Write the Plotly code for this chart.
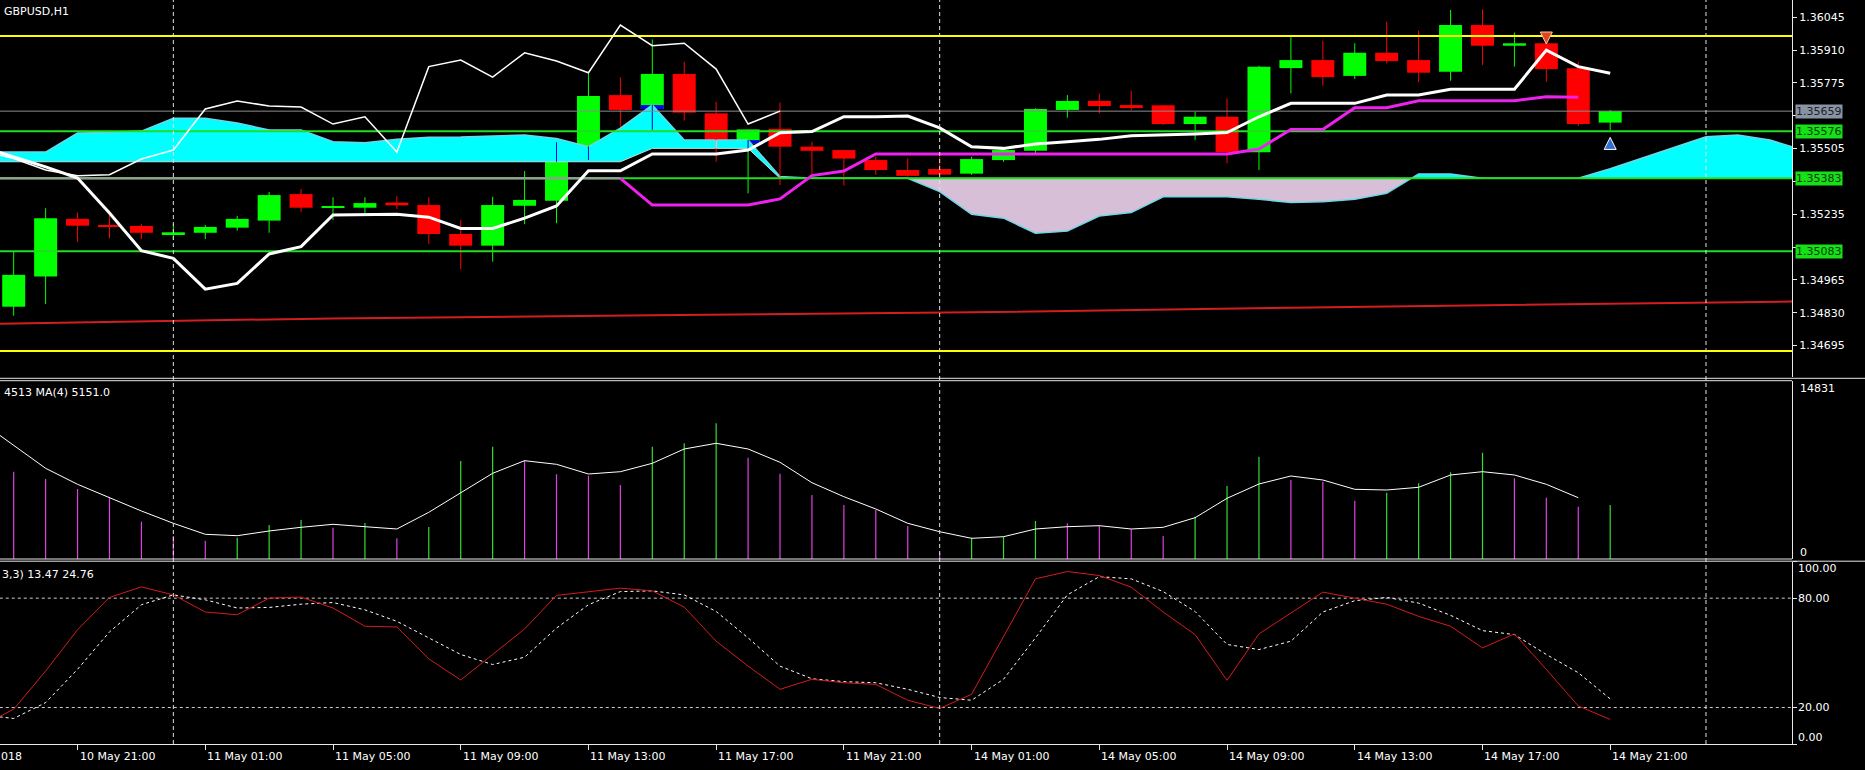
import plotly.graph_objects as go

# GBPUSD H1, bar 0 = 10 May 19:00 ... bar 50 = 14 May 21:00
bars = list(range(51))

opens = [1.34855, 1.34979, 1.35216, 1.35188, 1.35187, 1.35153, 1.35159, 1.35180, 1.35209, 1.35318,
         1.35262, 1.35262, 1.35283, 1.35273, 1.35154, 1.35106, 1.35270, 1.35291, 1.35462, 1.35725,
         1.35668, 1.35812, 1.35650, 1.35527, 1.35586, 1.35513, 1.35499, 1.35458, 1.35417, 1.35421,
         1.35402, 1.35458, 1.35496, 1.35664, 1.35701, 1.35684, 1.35683, 1.35606, 1.35636, 1.35490,
         1.35836, 1.35869, 1.35804, 1.35899, 1.35869, 1.35821, 1.36013, 1.35928, 1.35938, 1.35835,
         1.35612]
highs = [1.35081, 1.35260, 1.35242, 1.35232, 1.35194, 1.35195, 1.35191, 1.35228, 1.35327, 1.35339,
         1.35305, 1.35305, 1.35310, 1.35305, 1.35212, 1.35307, 1.35413, 1.35531, 1.35817, 1.35798,
         1.35954, 1.35862, 1.35698, 1.35584, 1.35694, 1.35533, 1.35499, 1.35472, 1.35465, 1.35472,
         1.35472, 1.35499, 1.35671, 1.35725, 1.35732, 1.35743, 1.35683, 1.35657, 1.35712, 1.35846,
         1.35963, 1.35949, 1.35938, 1.36027, 1.35990, 1.36075, 1.36078, 1.35982, 1.35959, 1.35862,
         1.35664]
lows = [1.34818, 1.34866, 1.35122, 1.35136, 1.35133, 1.35129, 1.35133, 1.35168, 1.35159, 1.35244,
        1.35212, 1.35239, 1.35256, 1.35113, 1.35009, 1.35040, 1.35194, 1.35198, 1.35458, 1.35595,
        1.35582, 1.35620, 1.35451, 1.35321, 1.35355, 1.35390, 1.35353, 1.35397, 1.35390, 1.35397,
        1.35397, 1.35451, 1.35486, 1.35632, 1.35650, 1.35664, 1.35602, 1.35541, 1.35445, 1.35417,
        1.35732, 1.35764, 1.35791, 1.35856, 1.35778, 1.35784, 1.35849, 1.35842, 1.35780, 1.35598,
        1.35579]
closes = [1.34986, 1.35219, 1.35188, 1.35184, 1.35159, 1.35161, 1.35183, 1.35216, 1.35314, 1.35262,
          1.35266, 1.35281, 1.35272, 1.35154, 1.35106, 1.35273, 1.35294, 1.35465, 1.35721, 1.35664,
          1.35812, 1.35653, 1.35517, 1.35584, 1.35513, 1.35496, 1.35464, 1.35417, 1.35393, 1.35398,
          1.35462, 1.35499, 1.35668, 1.35701, 1.35680, 1.35676, 1.35606, 1.35636, 1.35491, 1.35842,
          1.35869, 1.35799, 1.35899, 1.35865, 1.35817, 1.36013, 1.35928, 1.35938, 1.35832, 1.35606,
          1.35659]

# indicator lines start one bar left of the screen (bar -1)
line_bars = list(range(-1, 51))
tenkan = [1.35512, 1.35471, 1.35430, 1.35384, 1.35240, 1.35085, 1.35054, 1.34927, 1.34951, 1.35072,
          1.35102, 1.35232, 1.35235, 1.35235, 1.35223, 1.35177, 1.35177, 1.35219, 1.35269, 1.35414,
          1.35414, 1.35483, 1.35483, 1.35483, 1.35499, 1.35570, 1.35575, 1.35636, 1.35636, 1.35639,
          1.35590, 1.35513, 1.35506, 1.35524, 1.35533, 1.35543, 1.35558, 1.35561, 1.35565, 1.35571,
          1.35636, 1.35691, 1.35691, 1.35691, 1.35725, 1.35725, 1.35749, 1.35749, 1.35749, 1.35910,
          1.35842, 1.35815]

chikou_bars = list(range(-1, 25))
chikou = [1.35496, 1.35464, 1.35417, 1.35393, 1.35398, 1.35462, 1.35499, 1.35668, 1.35701, 1.35680,
          1.35676, 1.35606, 1.35636, 1.35491, 1.35842, 1.35869, 1.35799, 1.35899, 1.35865, 1.35817,
          1.36013, 1.35928, 1.35938, 1.35832, 1.35606, 1.35659]

kijun_bars = list(range(19, 51))
kijun = [1.35383, 1.35273, 1.35273, 1.35273, 1.35273, 1.35298, 1.35394, 1.35413, 1.35483, 1.35483,
         1.35483, 1.35483, 1.35483, 1.35483, 1.35483, 1.35483, 1.35483, 1.35483, 1.35483, 1.35483,
         1.35503, 1.35584, 1.35584, 1.35673, 1.35673, 1.35702, 1.35702, 1.35702, 1.35702, 1.35718,
         1.35716]

# cloud runs 26 bars ahead of price
cloud_bars = list(range(-1, 57))
senkou_a = [1.35491, 1.35491, 1.35491, 1.35569, 1.35571, 1.35577, 1.35630, 1.35630, 1.35610, 1.35582,
            1.35582, 1.35533, 1.35529, 1.35543, 1.35552, 1.35553, 1.35557, 1.35561, 1.35547, 1.35513,
            1.35589, 1.35684, 1.35540, 1.35540, 1.35540, 1.35390, 1.35383, 1.35383, 1.35383, 1.35383,
            1.35328, 1.35235, 1.35219, 1.35157, 1.35166, 1.35228, 1.35242, 1.35307, 1.35307, 1.35307,
            1.35297, 1.35283, 1.35287, 1.35297, 1.35321, 1.35401, 1.35401, 1.35383, 1.35383, 1.35383,
            1.35383, 1.35422, 1.35466, 1.35510, 1.35554, 1.35561, 1.35540, 1.35501]
senkou_b = [1.35451, 1.35451, 1.35451, 1.35451, 1.35451, 1.35451, 1.35451, 1.35451, 1.35451, 1.35451,
            1.35451, 1.35451, 1.35451, 1.35451, 1.35451, 1.35451, 1.35451, 1.35451, 1.35451, 1.35451,
            1.35451, 1.35506, 1.35506, 1.35506, 1.35506, 1.35383, 1.35383, 1.35383, 1.35383, 1.35383,
            1.35383, 1.35383, 1.35383, 1.35383, 1.35383, 1.35383, 1.35383, 1.35383, 1.35383, 1.35383,
            1.35383, 1.35383, 1.35383, 1.35383, 1.35383, 1.35383, 1.35383, 1.35383, 1.35383, 1.35383,
            1.35383, 1.35383, 1.35383, 1.35383, 1.35383, 1.35383, 1.35383, 1.35383]

ma_bars = [-1, 10, 20, 30, 40, 50, 56]
ma_slow = [1.34784, 1.34807, 1.34820, 1.34832, 1.34851, 1.34867, 1.34877]

levels_yellow = [1.35968, 1.34673]
levels_green = [1.35576, 1.35383, 1.35083]
bid = 1.35659
price_ticks = [1.34695, 1.34830, 1.34965, 1.35100, 1.35235, 1.35370, 1.35505, 1.35640, 1.35775,
               1.35910, 1.36045]
# scale labels hidden behind the price boxes
price_hidden = [1.35100, 1.35370, 1.35640]

sell_bar, sell_price = [48], [1.35935]
buy_bar, buy_price = [50], [1.35551]

volume = [7900, 7286, 6677, 5842, 5116, 3113, 1920, 1527, 1778, 2838, 3255,
          2612, 3005, 1728, 2671, 8179, 9373, 8263, 7069, 6952, 6176,
          9373, 9656, 11326, 8454, 7119, 5341, 4507, 4090, 2754, 526,
          1778, 1861, 3171, 2980, 2779, 2479, 1920, 3530, 6093, 8538,
          6593, 6451, 4866, 5533, 6318, 7236, 8872, 6735, 5116, 4365, 4513]
volume_ma = [11400, 9523, 7570, 6234, 5116, 4006, 2980, 2061, 1945, 2337, 2646,
             2896, 2696, 2504, 3898, 5533, 7153, 8204, 7904, 7094, 7286,
             7987, 9181, 9656, 9181, 8071, 6368, 5200, 4173, 2980, 2278,
             1728, 1861, 2504, 2696, 2779, 2504, 2646, 3447, 5066, 6260,
             6927, 6593, 5817, 5759, 5984, 7011, 7286, 7011, 6234, 5116]
volume_max = 14831

stoch_k = [10.0, 19.1, 40.0, 62.7, 80.4, 86.2, 81.8, 72.4, 70.9, 80.0, 80.6,
           74.6, 64.6, 64.2, 46.7, 35.1, 49.1, 63.1, 81.5, 83.6, 85.5,
           84.0, 75.1, 56.4, 42.7, 30.0, 35.5, 33.6, 32.7, 24.0, 19.5,
           27.3, 59.1, 90.6, 94.6, 92.4, 86.0, 72.4, 60.0, 34.9, 60.4,
           71.8, 83.3, 80.0, 76.7, 70.0, 64.6, 52.7, 60.4, 40.9, 20.9, 13.47]
stoch_d = [16.0, 14.0, 22.7, 41.0, 61.5, 76.4, 81.8, 79.1, 74.6, 74.9, 76.7,
           77.6, 73.6, 67.3, 58.2, 49.1, 43.6, 47.6, 63.6, 76.4, 83.6,
           84.0, 81.8, 72.7, 58.2, 42.7, 35.8, 34.2, 33.6, 30.0, 25.5,
           24.0, 35.5, 58.2, 81.8, 91.8, 90.6, 83.6, 72.7, 54.6, 51.8,
           56.4, 72.4, 78.6, 80.4, 77.3, 70.6, 62.2, 60.0, 49.1, 39.1, 24.76]
stoch_levels = [20, 80]

time_bars = [2, 6, 10, 14, 18, 22, 26, 30, 34, 38, 42, 46, 50]
time_labels = ["10 May 21:00", "11 May 01:00", "11 May 05:00", "11 May 09:00", "11 May 13:00",
               "11 May 17:00", "11 May 21:00", "14 May 01:00", "14 May 05:00", "14 May 09:00",
               "14 May 13:00", "14 May 17:00", "14 May 21:00"]
day_breaks = [5, 29, 53]

BULL, BEAR = "#00ff00", "#ff0000"
KUMO_UP, KUMO_DN = "#00ffff", "#d8bfd8"
FONT = "DejaVu Sans"

# pixel frame of the terminal window
W, H = 1865, 770
PLOT_W, PLOT_H = 1792, 744


def py(row):
    # pixel row -> paper fraction
    return (PLOT_H - row) / PLOT_H


def xor_color(c1, c2):
    return "#%06x" % (int(c1[1:], 16) ^ int(c2[1:], 16))


def cloud_pieces(xs, a, b):
    pieces = []
    up = a[0] >= b[0]
    px, top, bot = [], [], []
    for k in range(len(xs)):
        now_up = a[k] >= b[k]
        if k > 0 and now_up != up:
            d0 = a[k - 1] - b[k - 1]
            d1 = a[k] - b[k]
            t = d0 / (d0 - d1)
            xc = xs[k - 1] + t * (xs[k] - xs[k - 1])
            yc = a[k - 1] + t * (a[k] - a[k - 1])
            px.append(xc); top.append(yc); bot.append(yc)
            pieces.append((up, px, top, bot))
            px, top, bot = [xc], [yc], [yc]
            up = now_up
        px.append(xs[k])
        top.append(max(a[k], b[k]))
        bot.append(min(a[k], b[k]))
    pieces.append((up, px, top, bot))
    return pieces


fig = go.Figure()

# Kumo
for up, px, top, bot in cloud_pieces(cloud_bars, senkou_a, senkou_b):
    fig.add_trace(go.Scatter(
        x=px + px[::-1], y=top + bot[::-1],
        fill="toself", fillcolor=KUMO_UP if up else KUMO_DN,
        mode="lines", line=dict(width=0), hoverinfo="skip",
    ))
fig.add_trace(go.Scatter(x=cloud_bars, y=senkou_b, mode="lines",
                         line=dict(color="#c8dcdc", width=1), hoverinfo="skip"))
fig.add_trace(go.Scatter(x=cloud_bars, y=senkou_a, mode="lines",
                         line=dict(color="#6fd6e6", width=1.5), hoverinfo="skip"))

# candle wicks
for col, is_bull in ((BULL, True), (BEAR, False)):
    wx, wy = [], []
    for i in bars:
        if (closes[i] > opens[i]) == is_bull:
            wx += [i, i, None]
            wy += [lows[i], highs[i], None]
    fig.add_trace(go.Scatter(x=wx, y=wy, mode="lines", line=dict(color=col, width=1),
                             hoverinfo="skip"))

# candle bodies
body_base = [min(o, c) for o, c in zip(opens, closes)]
body_h = [max(abs(c - o), 0.00005) for o, c in zip(opens, closes)]
body_col = [BULL if c > o else BEAR for o, c in zip(opens, closes)]
fig.add_trace(go.Bar(x=bars, y=body_h, base=body_base, width=0.72,
                     marker=dict(color=body_col, line=dict(width=0)), hoverinfo="skip"))

# where a candle sits inside the cloud the terminal XORs the colours
xo_x, xo_base, xo_h, xo_col = [], [], [], []
xw = {}
for i in bars:
    k = cloud_bars.index(i)
    c_lo, c_hi = min(senkou_a[k], senkou_b[k]), max(senkou_a[k], senkou_b[k])
    if c_hi - c_lo < 1e-5:
        continue
    kumo = KUMO_UP if senkou_a[k] >= senkou_b[k] else KUMO_DN
    col = xor_color(BULL if closes[i] > opens[i] else BEAR, kumo)
    lo = max(min(opens[i], closes[i]), c_lo)
    hi = min(max(opens[i], closes[i]), c_hi)
    if hi > lo:
        xo_x.append(i); xo_base.append(lo); xo_h.append(hi - lo); xo_col.append(col)
    wl, wh = max(lows[i], c_lo), min(highs[i], c_hi)
    if wh > wl:
        seg = xw.setdefault(col, ([], []))
        seg[0].extend([i, i, None]); seg[1].extend([wl, wh, None])
if xo_x:
    fig.add_trace(go.Bar(x=xo_x, y=xo_h, base=xo_base, width=0.72,
                         marker=dict(color=xo_col, line=dict(width=0)), hoverinfo="skip"))
for col, (sx, sy) in xw.items():
    fig.add_trace(go.Scatter(x=sx, y=sy, mode="lines", line=dict(color=col, width=1),
                             hoverinfo="skip"))

# horizontal levels
for lv in levels_yellow:
    fig.add_trace(go.Scatter(x=[-1, 57], y=[lv, lv], mode="lines",
                             line=dict(color="#ffff00", width=2), hoverinfo="skip"))
fig.add_trace(go.Scatter(x=[-1, 57], y=[bid, bid], mode="lines",
                         line=dict(color="#8c8c8c", width=1), hoverinfo="skip"))
for lv in levels_green:
    fig.add_trace(go.Scatter(x=[-1, 57], y=[lv, lv], mode="lines",
                             line=dict(color="#22dd22", width=2), hoverinfo="skip"))
fig.add_trace(go.Scatter(x=[-1, kijun_bars[0]], y=[kijun[0], kijun[0]], mode="lines",
                         line=dict(color="#8f9f8f", width=2.5), hoverinfo="skip"))

# slow MA, chikou, tenkan, kijun
fig.add_trace(go.Scatter(x=ma_bars, y=ma_slow, mode="lines",
                         line=dict(color="#d21e1e", width=2), hoverinfo="skip"))
fig.add_trace(go.Scatter(x=chikou_bars, y=chikou, mode="lines",
                         line=dict(color="#ffffff", width=1.5), hoverinfo="skip"))
fig.add_trace(go.Scatter(x=line_bars, y=tenkan, mode="lines",
                         line=dict(color="#ffffff", width=3), hoverinfo="skip"))
fig.add_trace(go.Scatter(x=kijun_bars, y=kijun, mode="lines",
                         line=dict(color="#ee22ee", width=3), hoverinfo="skip"))

# signal arrows
fig.add_trace(go.Scatter(x=sell_bar, y=sell_price, mode="markers", hoverinfo="skip",
                         marker=dict(symbol="arrow-down", size=12, color="#e2441d",
                                     line=dict(color="#ffc8b0", width=1))))
fig.add_trace(go.Scatter(x=buy_bar, y=buy_price, mode="markers", hoverinfo="skip",
                         marker=dict(symbol="arrow-up", size=12, color="#2f6fd0",
                                     line=dict(color="#ffffff", width=1))))

# volume sub-window
vol_bars = list(range(-1, 51))
for col, rising in (("#33dd33", True), ("#e040e0", False)):
    vx, vy = [], []
    for k in range(1, len(volume)):
        if (volume[k] > volume[k - 1]) == rising:
            vx += [vol_bars[k], vol_bars[k], None]
            vy += [0, volume[k], None]
    fig.add_trace(go.Scatter(x=vx, y=vy, mode="lines", line=dict(color=col, width=1.2),
                             yaxis="y2", hoverinfo="skip"))
fig.add_trace(go.Scatter(x=vol_bars[:len(volume_ma)], y=volume_ma, mode="lines",
                         line=dict(color="#ffffff", width=1), yaxis="y2", hoverinfo="skip"))

# stochastic sub-window
for lv in stoch_levels:
    fig.add_trace(go.Scatter(x=[-1, 57], y=[lv, lv], mode="lines", yaxis="y3",
                             line=dict(color="#d0d0d0", width=1, dash="3px,3px"),
                             hoverinfo="skip"))
fig.add_trace(go.Scatter(x=line_bars, y=stoch_d, mode="lines", yaxis="y3",
                         line=dict(color="#ffffff", width=1, dash="3px,3px"), hoverinfo="skip"))
fig.add_trace(go.Scatter(x=line_bars, y=stoch_k, mode="lines", yaxis="y3",
                         line=dict(color="#d41c1c", width=1), hoverinfo="skip"))

# day separators and window borders
shapes = []
for b in day_breaks:
    shapes.append(dict(type="line", xref="x", yref="paper", x0=b, x1=b, y0=0, y1=1,
                       line=dict(color="#e0e0e0", width=1, dash="4px,3px")))
for row, full in ((378.3, True), (380.7, False), (559.0, False), (561.2, True)):
    shapes.append(dict(type="line", xref="paper", yref="paper", x0=0,
                       x1=W / PLOT_W if full else 1, y0=py(row), y1=py(row),
                       line=dict(color="#e8e8e8", width=1)))

ann = []
txt = dict(family=FONT, size=11, color="#ffffff")
ann.append(dict(text="GBPUSD,H1", xref="paper", yref="paper", x=0, y=1, xanchor="left",
                yanchor="top", xshift=2, yshift=-3, showarrow=False, font=txt))
ann.append(dict(text="4513 MA(4) 5151.0", xref="paper", yref="paper", x=0, y=py(381.3),
                xanchor="left", yanchor="top", xshift=2, yshift=-3, showarrow=False, font=txt))
ann.append(dict(text="3,3) 13.47 24.76", xref="paper", yref="paper", x=0, y=py(561.7),
                xanchor="left", yanchor="top", xshift=0, yshift=-4, showarrow=False, font=txt))
# price boxes on the scale
ann.append(dict(text=f"{bid:.5f}", xref="paper", yref="y", x=1, y=bid, xanchor="left",
                xshift=3, showarrow=False, bgcolor="#8a93a3", borderpad=0,
                font=dict(family=FONT, size=11, color="#1c222a")))
for lv in levels_green:
    ann.append(dict(text=f"{lv:.5f}", xref="paper", yref="y", x=1, y=lv, xanchor="left",
                    xshift=3, showarrow=False, bgcolor="#16e016", borderpad=0,
                    font=dict(family=FONT, size=11, color="#0c3a0c")))
# sub-window scale labels
ann.append(dict(text=str(volume_max), xref="paper", yref="y2", x=1, y=volume_max,
                xanchor="left", xshift=6, yshift=-7, showarrow=False, font=txt))
ann.append(dict(text="0", xref="paper", yref="y2", x=1, y=0, xanchor="left",
                xshift=6, yshift=7, showarrow=False, font=txt))
for val, shift in ((100, -7), (80, 0), (20, 0), (0, 7)):
    ann.append(dict(text=f"{val:.2f}", xref="paper", yref="y3", x=1, y=val, xanchor="left",
                    xshift=4, yshift=shift, showarrow=False, font=txt))
# time scale (first label is clipped by the window edge, only "018" shows)
for b, lab in zip(time_bars, time_labels):
    ann.append(dict(text=lab, xref="x", yref="paper", x=b, y=0, xanchor="left",
                    yanchor="top", xshift=0, yshift=-4, showarrow=False, font=txt))
ann.append(dict(text="018", xref="paper", yref="paper", x=0, y=0,
                xanchor="left", yanchor="top", xshift=-1, yshift=-4, showarrow=False, font=txt))

x_lo = -13.7 / 31.93
x_hi = (PLOT_W - 13.7) / 31.93
axis_common = dict(showgrid=False, zeroline=False, showline=True, linecolor="#e8e8e8",
                   linewidth=1, side="right", anchor="x", automargin=False)

fig.update_layout(
    width=W, height=H,
    margin=dict(l=0, r=W - PLOT_W, t=0, b=H - PLOT_H),
    paper_bgcolor="#000000", plot_bgcolor="#000000",
    showlegend=False, barmode="overlay",
    font=dict(family=FONT, size=11, color="#ffffff"),
    shapes=shapes, annotations=ann,
    xaxis=dict(domain=[0, 1], range=[x_lo, x_hi], anchor="y3", showgrid=False,
               zeroline=False, showline=True, linecolor="#e8e8e8", ticks="outside",
               ticklen=5, tickcolor="#e8e8e8", tickvals=time_bars, showticklabels=False,
               automargin=False),
    yaxis=dict(domain=[py(377), 1], range=[1.34566, 1.36116], ticks="outside", ticklen=4,
               tickcolor="#e8e8e8", tickvals=price_ticks,
               ticktext=["" if v in price_hidden else f"{v:.5f}" for v in price_ticks],
               tickfont=dict(family=FONT, size=11, color="#ffffff"), **axis_common),
    yaxis2=dict(domain=[py(559), py(381.3)], range=[0, volume_max], showticklabels=False,
                ticks="", **axis_common),
    yaxis3=dict(domain=[0, py(561.7)], range=[0, 100], showticklabels=False,
                ticks="outside", ticklen=4, tickcolor="#e8e8e8", tickvals=[0, 20, 80, 100],
                **axis_common),
)

fig.write_html("out.html", config={"displayModeBar": False},
               post_script="document.body.style.margin='0px';")
